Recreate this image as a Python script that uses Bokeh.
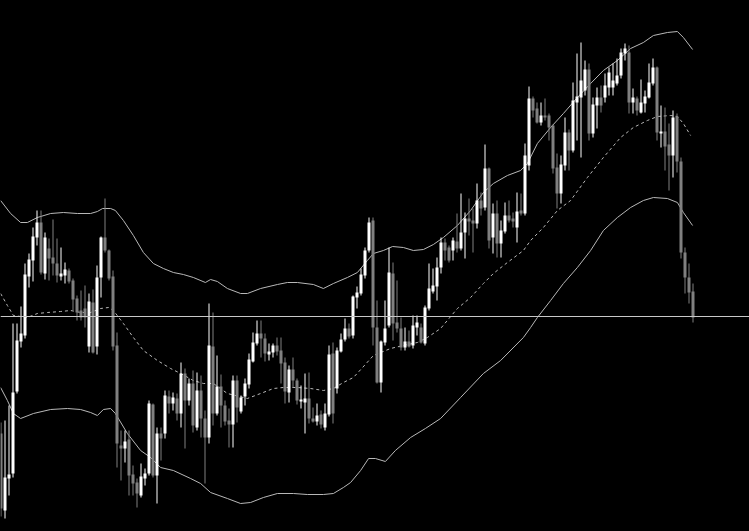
from bokeh.plotting import figure
from bokeh.models import ColumnDataSource, Range1d, Span
from bokeh.embed import file_html
from bokeh.resources import INLINE

open_ = [433,510,478,473,391,341,335,276,260,237,
         222,273,248,257,263,276,275,270,280,298,
         310,308,346,302,346,277,237,250,276,345,
         445,448,439,474,482,495,478,473,404,475,
         433,433,396,403,398,413,373,400,383,427,
         390,418,437,346,413,386,405,420,424,380,
         411,396,384,361,343,333,338,354,352,345,
         350,362,392,369,380,401,402,398,418,421,
         414,427,414,353,388,351,339,328,335,297,
         293,275,250,220,327,382,342,325,273,322,
         328,347,341,345,327,327,343,308,291,286,
         267,242,247,250,241,248,232,218,220,223,
         200,207,168,237,213,243,231,215,218,227,
         210,213,165,98,108,122,115,115,125,167,
         193,165,132,150,102,97,90,69,133,105,
         97,97,87,87,83,75,53,52,102,98,
         112,103,97,83,67,133,131,144,155,116,
         161,252,277,291]
high = [422,420,405,323,323,306,263,253,227,210,
        210,232,238,219,238,247,262,268,278,295,
        290,285,293,289,265,236,198,249,270,332,
        430,430,430,465,478,463,468,400,403,427,
        427,390,390,392,393,362,368,378,370,372,
        375,410,303,312,355,374,400,408,375,375,
        395,378,353,332,320,320,333,343,343,337,
        337,357,365,357,378,385,373,372,407,403,
        410,403,345,342,347,333,318,323,295,286,
        268,247,217,217,300,340,300,247,262,280,
        317,327,330,315,315,323,305,263,268,257,
        237,238,245,237,213,193,212,198,208,183,
        192,144,167,203,200,220,202,200,212,192,
        193,143,86,96,102,102,98,113,124,153,
        155,117,129,82,53,42,60,63,97,87,
        85,73,67,63,58,48,43,45,88,96,
        79,90,63,58,66,105,107,123,110,113,
        157,247,263,283]
low = [516,518,495,477,393,347,338,287,281,245,
       274,279,280,275,282,280,283,283,310,320,
       320,327,352,353,354,297,252,280,350,467,
       480,462,495,495,507,497,485,475,477,503,
       460,438,413,410,420,427,448,405,432,430,
       437,483,443,425,415,427,425,447,447,422,
       413,405,388,362,345,357,361,360,357,355,
       383,403,402,387,404,408,433,423,422,425,
       428,430,416,423,393,352,341,338,338,308,
       295,278,252,345,383,392,345,327,340,332,
       350,350,347,348,335,343,345,310,293,300,
       273,260,262,260,252,250,258,235,252,228,
       215,210,248,253,257,257,233,222,227,242,
       215,215,170,117,123,125,120,140,173,208,
       203,170,170,152,140,157,95,140,137,128,
       112,102,95,95,85,78,60,113,113,115,
       113,112,98,85,140,147,170,190,177,172,
       258,293,303,322]
close = [508,477,474,392,340,333,274,259,236,222,
         272,237,258,263,275,273,269,281,299,312,
         317,317,301,352,277,237,250,278,346,443,
         448,441,475,483,493,476,473,403,475,433,
         438,395,403,397,413,373,400,383,425,390,
         418,437,345,413,386,405,421,424,380,407,
         397,383,359,342,333,338,353,351,345,351,
         363,391,369,380,400,399,398,418,421,415,
         424,413,354,413,350,339,328,336,296,292,
         274,250,222,327,382,341,328,272,323,328,
         347,341,346,325,322,342,307,288,285,267,
         242,250,260,240,248,232,218,221,223,200,
         208,168,240,213,243,230,215,220,221,211,
         213,155,98,110,122,115,117,127,168,193,
         164,132,150,100,96,80,69,133,104,97,
         105,85,72,80,75,52,48,102,97,110,
         102,96,82,67,132,131,146,155,117,161,
         252,277,292,317]

# Bollinger bands (bar index, level)
upper_x = [-0.1,2.4,4.9,6.6,9.1,12.4,15.6,19.1,22.4,24.1,25.4,27.4,28.6,30.6,33.1,35.6,38.1,40.6,
           43.1,45.6,48.1,51.1,52.4,54.1,56.6,59.9,61.6,64.9,69.1,71.6,74.1,78.1,80.6,83.1,86.6,
           89.1,91.6,93.1,95.6,97.9,100.6,103.1,105.6,108.1,110.6,114.1,117.4,120.6,123.1,126.6,
           129.9,131.6,134.1,137.4,140.6,144.1,147.4,150.6,154.1,157.4,160.6,163.1,166.6,169.1,
           170.6,172.9]
upper_y = [200,213,222,222,217,213,212,213,213,211,208,208,210,220,235,252,263,268,
           272,274,277,282,279,281,288,293,293,288,284,282,282,284,288,283,277,
           272,260,253,250,246,247,250,249,244,237,225,210,192,183,175,
           170,163,143,127,113,97,83,70,60,48,42,35,32,31,
           37,49]
mid_x = [-0.1,1.6,3.1,6.6,9.1,11.6,14.9,17.4,19.9,22.4,24.9,26.9,28.1,30.6,33.1,35.6,39.1,42.4,
         44.9,48.1,50.6,53.1,56.6,61.6,64.9,68.1,70.6,74.1,77.4,80.6,83.1,85.6,88.1,90.4,93.1,
         97.4,100.6,104.1,106.6,109.9,114.1,117.4,120.6,123.1,126.6,130.6,132.4,135.6,139.1,
         142.4,146.6,150.6,154.9,158.1,161.6,164.1,167.4,169.1,170.6,172.4]
mid_y = [293,305,315,317,313,312,311,310,312,312,308,307,310,323,337,350,360,368,
         373,380,383,383,393,398,393,388,387,387,388,390,388,382,377,367,355,
         348,345,342,337,328,308,297,283,273,262,250,240,227,210,
         200,177,157,137,127,120,116,115,116,123,135]
lower_x = [-0.1,1.6,3.1,4.9,8.1,12.4,16.6,19.9,22.4,24.1,25.6,27.4,28.6,31.6,34.9,37.4,39.9,43.1,
           47.4,49.9,52.4,56.6,59.9,62.4,65.6,69.1,73.1,76.6,80.6,83.1,85.6,87.4,89.9,91.9,93.6,
           96.1,98.6,102.4,106.1,109.9,114.9,120.6,124.9,130.6,132.4,134.1,137.4,140.6,144.1,
           147.4,150.6,154.1,157.4,160.6,163.1,166.6,169.1,170.6,172.9]
lower_y = [387,400,413,418,413,409,408,409,412,415,409,408,413,433,450,457,467,470,
           478,483,492,498,503,502,497,493,493,494,494,493,487,482,470,458,458,
           461,450,437,428,418,397,373,360,337,327,317,300,283,267,
           250,230,217,207,200,197,198,202,212,225]
last_price = 316

idx = list(range(len(open_)))
bull = {k: [] for k in ("x", "top", "bottom", "high", "low")}
bear = {k: [] for k in ("x", "top", "bottom", "high", "low")}
for i, o, h, l, c in zip(idx, open_, high, low, close):
    d = bull if c < o else bear
    d["x"].append(i)
    d["top"].append(min(o, c))
    d["bottom"].append(max(o, c))
    d["high"].append(h)
    d["low"].append(l)

W, H = 749, 531
p = figure(width=W, height=H, x_range=Range1d(-0.125, (W - 0.5) / 4),
           y_range=Range1d(H, 0), output_backend="svg", toolbar_location=None,
           x_axis_type=None, y_axis_type=None, min_border=0,
           background_fill_color="black", border_fill_color="black",
           outline_line_color=None)
p.grid.visible = False

band_col = "#b8b8b8"
p.line(upper_x, upper_y, line_color=band_col, line_width=1)
p.line(lower_x, lower_y, line_color=band_col, line_width=1)
p.line(mid_x, mid_y, line_color=band_col, line_width=1, line_dash="3 3")

for d, col in ((bear, "#808080"), (bull, "#ffffff")):
    src = ColumnDataSource(d)
    p.segment(x0="x", y0="high", x1="x", y1="low", source=src, line_color=col, line_width=1)
    p.vbar(x="x", top="top", bottom="bottom", width=0.75, source=src,
           fill_color=col, line_color=None)

p.add_layout(Span(location=last_price, dimension="width", line_color="#c8c8c8", line_width=1))

template = """{% block preamble %}<style>html, body { margin: 0 !important; padding: 0 !important; background: #000 !important; overflow: hidden; }</style>{% endblock %}"""
open("out.html", "w").write(file_html(p, INLINE, template=template))
